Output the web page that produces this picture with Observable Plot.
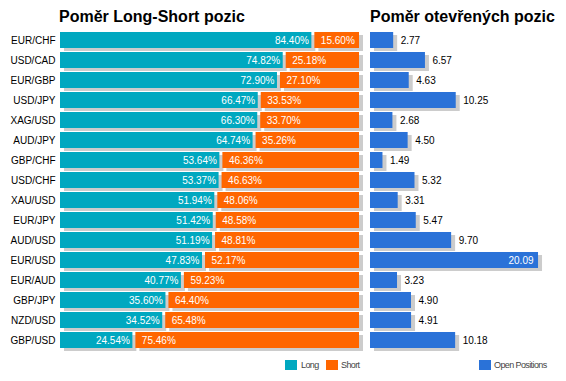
<!DOCTYPE html>
<html>
<head>
<meta charset="utf-8">
<script src="https://cdn.jsdelivr.net/npm/d3@7"></script>
<script src="https://cdn.jsdelivr.net/npm/@observablehq/plot@0.6"></script>
<style>
  body { margin: 0; background: #fff; font-family: "Liberation Sans", Arial, sans-serif; }
  #wrap { position: relative; width: 566px; height: 381px; overflow: hidden; background: #fff; }
  .title { position: absolute; top: 7px; font-weight: bold; font-size: 16px; line-height: 20px; color: #000; white-space: nowrap; }
  .panel { position: absolute; top: 0; }
  .sw { position: absolute; top: 360px; width: 12px; height: 10px; }
  .lt { position: absolute; top: 360px; font-size: 9px; line-height: 10px; color: #444; letter-spacing: -0.6px; white-space: nowrap; }
</style>
</head>
<body>
<div id="wrap">
  <div class="title" style="left:59px">Poměr Long-Short pozic</div>
  <div class="title" style="left:370px">Poměr otevřených pozic</div>
  <div id="left" class="panel" style="left:0"></div>
  <div id="right" class="panel" style="left:366px"></div>
  <div class="sw" style="left:285px;background:#00a8c0"></div>
  <div class="lt" style="left:301px">Long</div>
  <div class="sw" style="left:326px;background:#ff6600"></div>
  <div class="lt" style="left:341px">Short</div>
  <div class="sw" style="left:479px;background:#2a72d8"></div>
  <div class="lt" style="left:494px">Open Positions</div>
</div>
<script>
const pairs = ["EUR/CHF","USD/CAD","EUR/GBP","USD/JPY","XAG/USD","AUD/JPY","GBP/CHF","USD/CHF","XAU/USD","EUR/JPY","AUD/USD","EUR/USD","EUR/AUD","GBP/JPY","NZD/USD","GBP/USD"];
const longPct = [84.40, 74.82, 72.90, 66.47, 66.30, 64.74, 53.64, 53.37, 51.94, 51.42, 51.19, 47.83, 40.77, 35.60, 34.52, 24.54];
const shortPct = [15.60, 25.18, 27.10, 33.53, 33.70, 35.26, 46.36, 46.63, 48.06, 48.58, 48.81, 52.17, 59.23, 64.40, 65.48, 75.46];
const openPos = [2.77, 6.57, 4.63, 10.25, 2.68, 4.50, 1.49, 5.32, 3.31, 5.47, 9.70, 20.09, 3.23, 4.90, 4.91, 10.18];

const TEAL = "#00a8c0", ORANGE = "#ff6600", BLUE = "#2a72d8", SHADOW = "#cccccc";
const FONT = "'Liberation Sans', Arial, sans-serif";

const rows = pairs.map((p, i) => ({pair: p, long: longPct[i], short: shortPct[i], open: openPos[i]}));

const common = {
  height: 381,
  marginTop: 28,
  marginBottom: 29,
  style: {fontFamily: FONT, fontSize: "10px", color: "#000", background: "transparent", overflow: "visible"}
};

const left = Plot.plot({
  ...common,
  width: 366,
  marginLeft: 60,
  marginRight: 7,
  x: {domain: [0, 100], axis: null},
  y: {domain: pairs, padding: 0.2, axis: null},
  marks: [
    Plot.barX(rows, {y: "pair", x1: 0, x2: "long", fill: SHADOW, dx: 4, dy: 3, insetRight: 1}),
    Plot.barX(rows, {y: "pair", x1: "long", x2: d => d.long + d.short, fill: SHADOW, dx: 4, dy: 3, insetLeft: 2}),
    Plot.barX(rows, {y: "pair", x1: 0, x2: "long", fill: TEAL, insetRight: 1}),
    Plot.barX(rows, {y: "pair", x1: "long", x2: d => d.long + d.short, fill: ORANGE, insetLeft: 2}),
    Plot.text(rows, {y: "pair", x: "long", text: d => d.long.toFixed(2) + "%", textAnchor: "end", dx: -4, fill: "#fff", fontSize: 10}),
    Plot.text(rows, {y: "pair", x: "long", text: d => d.short.toFixed(2) + "%", textAnchor: "start", dx: 8, fill: "#fff", fontSize: 10}),
    Plot.axisY({tickSize: 0, tickPadding: 5, fontSize: 10, fill: "#000", label: null})
  ]
});
document.getElementById("left").appendChild(left);

const right = Plot.plot({
  ...common,
  width: 200,
  marginLeft: 4,
  marginRight: 12,
  x: {domain: [0, 22], axis: null},
  y: {domain: pairs, padding: 0.2, axis: null},
  marks: [
    Plot.barX(rows, {y: "pair", x1: 0, x2: "open", fill: SHADOW, dx: 4, dy: 3}),
    Plot.barX(rows, {y: "pair", x1: 0, x2: "open", fill: BLUE}),
    Plot.text(rows.filter(d => d.open <= 15), {y: "pair", x: "open", text: d => d.open.toFixed(2), textAnchor: "start", dx: 7, fill: "#000", fontSize: 10}),
    Plot.text(rows.filter(d => d.open > 15), {y: "pair", x: "open", text: d => d.open.toFixed(2), textAnchor: "end", dx: -5, fill: "#fff", fontSize: 10})
  ]
});
document.getElementById("right").appendChild(right);
</script>
</body>
</html>
